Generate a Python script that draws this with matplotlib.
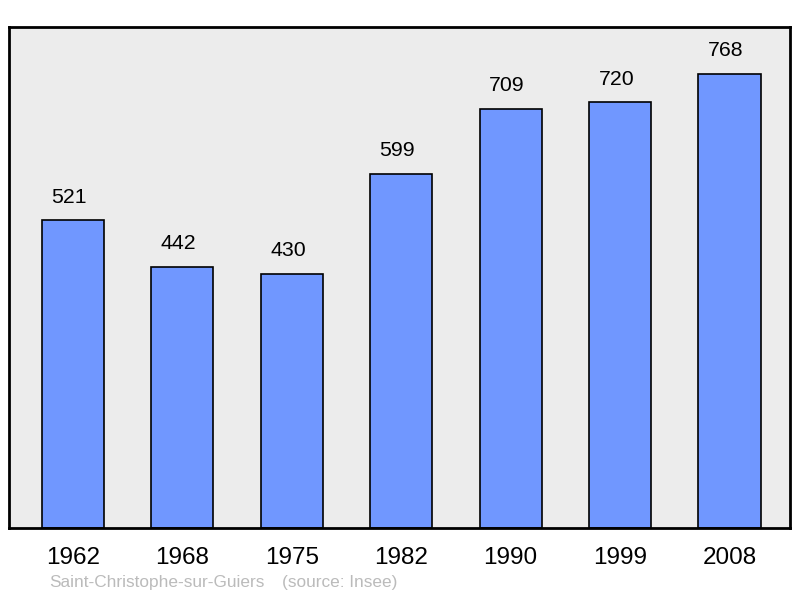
import matplotlib.pyplot as plt

years = ['1962', '1968', '1975', '1982', '1990', '1999', '2008']
population = [521, 442, 430, 599, 709, 720, 768]

plt.rcParams['font.family'] = ['Liberation Sans', 'DejaVu Sans']

fig = plt.figure(figsize=(8, 5.98), dpi=100)
ax = fig.add_axes([9/800, 1 - 528/598, 781/800, 501/598])
ax.set_facecolor('#ececec')

x = range(len(years))
bars = ax.bar(x, population, width=0.567, color='#7097ff', edgecolor='black', linewidth=1.2, zorder=2)
# labels sit a little left of the bar centre, as in the original
for xi, v in zip(x, population):
    ax.text(xi - 0.035, v + 23/0.5911, str(v), ha='center', va='center', fontsize=15.3)

ax.set_xlim(-0.585, 6.553)
ax.set_ylim(0, 847.5)
ax.set_xticks(list(x))
ax.set_xticklabels(years, fontsize=17.5)
ax.tick_params(axis='x', length=0, pad=14)
ax.set_yticks([])
for s in ax.spines.values():
    s.set_linewidth(2)

fig.text(49/800, 1 - 583/598, 'Saint-Christophe-sur-Guiers', color='#bbbbbb', fontsize=12.4, va='center')
fig.text(282/800, 1 - 583/598, '(source: Insee)', color='#bbbbbb', fontsize=12.4, va='center')

fig.savefig('out.png', dpi=100)
